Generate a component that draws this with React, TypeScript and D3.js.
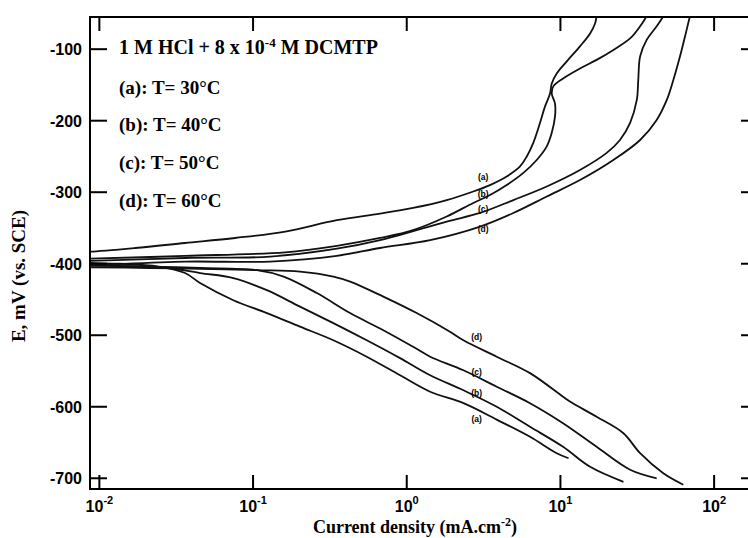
import React, { useEffect, useRef } from 'react';
import * as d3 from 'd3';

// [current density (mA.cm-2), E (mV vs. SCE)]
const cathodicA = [[11.3, -672], [9.46, -665], [6.34, -642], [3.85, -618], [2.34, -595], [1.42, -579], [0.905, -556], [0.549, -530], [0.333, -507], [0.202, -488], [0.123, -469], [0.0744, -451], [0.0452, -427], [0.0361, -413], [0.0242, -404], [0.0136, -400], [0.0087, -399], [0.0075, -398]];
const anodicA = [[0.0075, -383], [0.0087, -383], [0.0171, -378], [0.0361, -371], [0.0764, -364], [0.162, -355], [0.351, -339], [0.67, -330], [1.1, -322], [1.82, -311], [2.71, -299], [3.48, -290], [4.47, -278], [5.46, -264], [6.04, -250], [6.66, -231], [7.37, -203], [7.94, -180], [8.56, -162], [8.78, -148], [9.46, -134], [11.0, -117], [13.4, -96], [15.6, -78], [16.8, -64], [17.2, -54], [17.6, -45]];

const cathodicB = [[25.7, -705], [15.6, -684], [10.4, -656], [6.34, -628], [3.85, -600], [2.34, -577], [1.42, -556], [0.905, -532], [0.549, -507], [0.333, -483], [0.202, -460], [0.123, -437], [0.0744, -420], [0.0452, -413], [0.0281, -406], [0.0136, -403], [0.0087, -402], [0.0075, -402]];
const anodicB = [[0.0075, -393], [0.0087, -393], [0.0361, -389], [0.162, -384], [0.351, -375], [0.67, -364], [1.1, -353], [1.82, -334], [2.71, -315], [3.48, -304], [4.47, -290], [5.74, -273], [7.01, -255], [8.15, -236], [8.78, -217], [9.22, -194], [9.22, -176], [8.78, -162], [8.99, -152], [10.4, -141], [13.4, -127], [17.2, -115], [22.1, -101], [28.4, -85], [33.0, -68], [36.4, -54], [39, -45]];

const cathodicC = [[42.3, -700], [28.4, -688], [17.2, -656], [10.4, -623], [6.34, -595], [3.85, -572], [2.34, -549], [1.42, -530], [1.16, -519], [0.704, -493], [0.428, -469], [0.26, -441], [0.158, -418], [0.106, -409], [0.0452, -406], [0.0214, -404], [0.0087, -403], [0.0075, -403]];
const anodicC = [[0.0075, -396], [0.0087, -396], [0.0361, -392], [0.129, -390], [0.351, -379], [0.67, -367], [1.82, -341], [3.0, -329], [4.94, -311], [8.15, -292], [13.4, -269], [20.0, -245], [24.4, -227], [28.4, -203], [31.4, -171], [32.1, -143], [33.0, -110], [36.4, -87], [42.3, -68], [46.7, -54], [49, -45]];

const cathodicD = [[63.0, -709], [46.7, -693], [33.0, -665], [25.7, -637], [17.2, -614], [11.6, -593], [10.4, -586], [6.34, -553], [3.85, -530], [2.34, -507], [1.91, -495], [1.16, -469], [0.704, -446], [0.428, -425], [0.333, -418], [0.202, -411], [0.106, -409], [0.0452, -407], [0.0214, -406], [0.0087, -405], [0.0075, -405]];
const anodicD = [[0.0075, -402], [0.0087, -402], [0.0361, -397], [0.129, -397], [0.351, -389], [0.67, -378], [1.42, -367], [3.0, -348], [4.94, -329], [8.15, -306], [13.4, -283], [22.1, -255], [33.0, -227], [42.3, -199], [49.2, -171], [54.3, -143], [60.0, -110], [64.7, -82], [69.7, -54], [72, -45]];

const curveNames = ['(a)', '(b)', '(c)', '(d)'];
const temperatures = [30, 40, 50, 60];
// where the little curve labels sit
const labelCurrentAnodic = 3.14;
const labelEAnodic = [-279, -302, -323, -351];
const labelCurrentCathodic = 2.85;
const labelECathodic = [-617, -581, -551, -502];

const yTicks = [-100, -200, -300, -400, -500, -600, -700];
const xTickExponents = [-2, -1, 0, 1, 2];

export default function App() {
  const ref = useRef(null);

  useEffect(() => {
    const svg = d3.select(ref.current);
    svg.selectAll('*').remove();

    const left = 90, right = 758, top = 17, bottom = 489;
    const x = d3.scaleLog().domain([0.00869, 193]).range([left, right]);
    const y = d3.scaleLinear().domain([-715, -55]).range([bottom, top]);

    svg.append('rect').attr('width', 748).attr('height', 538).attr('fill', '#fff');

    svg.append('clipPath').attr('id', 'plotclip')
      .append('rect')
      .attr('x', left).attr('y', top)
      .attr('width', right - left).attr('height', bottom - top);

    const line = d3.line()
      .x((d) => x(d[0]))
      .y((d) => y(d[1]))
      .curve(d3.curveCatmullRom.alpha(0.5));

    const branches = [cathodicA, anodicA, cathodicB, anodicB, cathodicC, anodicC, cathodicD, anodicD];
    const g = svg.append('g').attr('clip-path', 'url(#plotclip)');
    branches.forEach((b) => {
      g.append('path')
        .attr('d', line(b))
        .attr('fill', 'none')
        .attr('stroke', '#111')
        .attr('stroke-width', 1.8)
        .attr('stroke-linejoin', 'round');
    });

    // frame
    svg.append('rect')
      .attr('x', left).attr('y', top)
      .attr('width', right - left).attr('height', bottom - top)
      .attr('fill', 'none').attr('stroke', '#000').attr('stroke-width', 2);

    // y ticks, inward on both sides
    yTicks.forEach((t) => {
      svg.append('line').attr('x1', left).attr('x2', left + 17)
        .attr('y1', y(t)).attr('y2', y(t)).attr('stroke', '#000').attr('stroke-width', 2);
      svg.append('line').attr('x1', right - 17).attr('x2', right)
        .attr('y1', y(t)).attr('y2', y(t)).attr('stroke', '#000').attr('stroke-width', 2);
      svg.append('text')
        .attr('x', 82).attr('y', y(t) + 6)
        .attr('text-anchor', 'end')
        .attr('font-family', 'Liberation Sans, Arial, sans-serif')
        .attr('font-weight', 'bold')
        .attr('font-size', 16)
        .text(t);
    });

    // x ticks, decades
    xTickExponents.forEach((e) => {
      const px = x(Math.pow(10, e));
      svg.append('line').attr('x1', px).attr('x2', px)
        .attr('y1', bottom).attr('y2', bottom - 14).attr('stroke', '#000').attr('stroke-width', 2);
      svg.append('line').attr('x1', px).attr('x2', px)
        .attr('y1', top).attr('y2', top + 14).attr('stroke', '#000').attr('stroke-width', 2);
      const tx = svg.append('text')
        .attr('x', px).attr('y', 512)
        .attr('text-anchor', 'middle')
        .attr('font-family', 'Liberation Sans, Arial, sans-serif')
        .attr('font-weight', 'bold')
        .attr('font-size', 16);
      tx.append('tspan').text('10');
      tx.append('tspan').attr('dy', -8).attr('font-size', 11).text(String(e));
    });

    const serif = 'Liberation Serif, Times New Roman, serif';

    // axis titles
    const xt = svg.append('text')
      .attr('x', 415).attr('y', 533)
      .attr('text-anchor', 'middle')
      .attr('font-family', serif).attr('font-weight', 'bold').attr('font-size', 18);
    xt.append('tspan').text('Current density (mA.cm');
    xt.append('tspan').attr('dy', -7).attr('font-size', 12).text('-2');
    xt.append('tspan').attr('dy', 7).text(')');

    svg.append('text')
      .attr('transform', 'translate(25,276) rotate(-90)')
      .attr('text-anchor', 'middle')
      .attr('font-family', serif).attr('font-weight', 'bold').attr('font-size', 19)
      .text('E, mV (vs. SCE)');

    // legend block
    const lt = svg.append('text')
      .attr('x', 119).attr('y', 54)
      .attr('font-family', serif).attr('font-weight', 'bold').attr('font-size', 20);
    lt.append('tspan').text('1 M HCl + 8 x 10');
    lt.append('tspan').attr('dy', -7).attr('font-size', 13).text('-4');
    lt.append('tspan').attr('dy', 7).text(' M DCMTP');

    const legendY = [94, 131, 169, 207];
    curveNames.forEach((n, i) => {
      svg.append('text')
        .attr('x', 119).attr('y', legendY[i])
        .attr('font-family', serif).attr('font-weight', 'bold').attr('font-size', 19)
        .text(n + ': T= ' + temperatures[i] + '\u00B0C');
    });

    // curve labels
    curveNames.forEach((n, i) => {
      svg.append('text')
        .attr('x', x(labelCurrentAnodic)).attr('y', y(labelEAnodic[i]) + 3)
        .attr('text-anchor', 'middle')
        .attr('font-family', 'Liberation Sans, Arial, sans-serif')
        .attr('font-weight', 'bold').attr('font-size', 8.5).attr('fill', '#000')
        .text(n);
      svg.append('text')
        .attr('x', x(labelCurrentCathodic)).attr('y', y(labelECathodic[i]) + 3)
        .attr('text-anchor', 'middle')
        .attr('font-family', 'Liberation Sans, Arial, sans-serif')
        .attr('font-weight', 'bold').attr('font-size', 8.5).attr('fill', '#000')
        .text(n);
    });
  }, []);

  return (
    <svg
      ref={ref}
      width={748}
      height={538}
      style={{ position: 'absolute', left: 0, top: 0 }}
    />
  );
}
